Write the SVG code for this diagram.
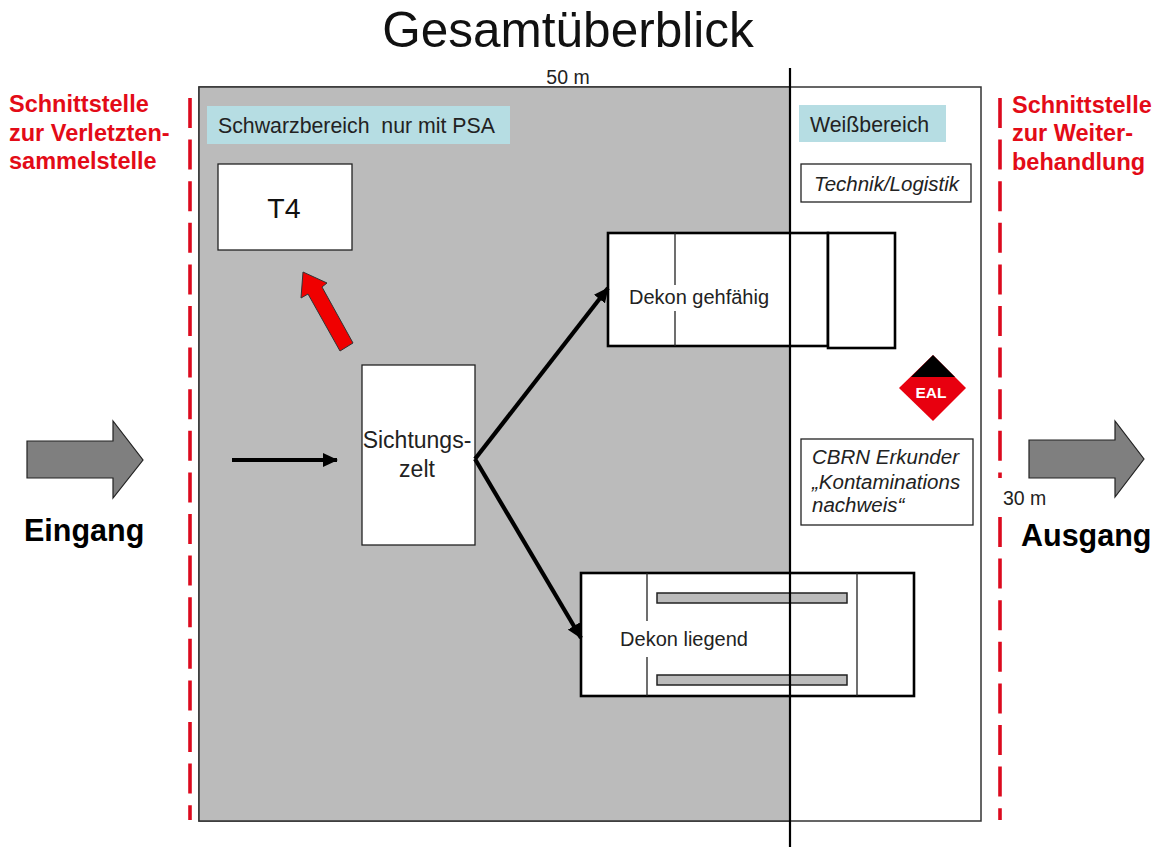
<svg xmlns="http://www.w3.org/2000/svg" width="1167" height="847" viewBox="0 0 1167 847">
<style>
text{font-family:"Liberation Sans",Arial,sans-serif;fill:#222}
.red{fill:#e30b17;font-weight:bold;font-size:23.500px}
.big{fill:#000;font-weight:bold;font-size:30.500px}
.n{font-size:21.300px}
.d{font-size:20px}
.i{font-size:20.500px;font-style:italic}
.box{fill:#fff;stroke:#222;stroke-width:1.3}
.thick{fill:#fff;stroke:#000;stroke-width:2.6}
.thin{stroke:#222;stroke-width:1.3;fill:none}
.bar{fill:#bbb;stroke:#222;stroke-width:1.5}
.dash{stroke:#dc0a1e;stroke-width:3.600;stroke-dasharray:30 11.600;fill:none}
.ga{fill:#7f7f7f;stroke:#222;stroke-width:1.2}
.lab{fill:#b6dde3}
.con{stroke:#000;stroke-width:4.200;fill:none}
.diag{stroke:#000;stroke-width:4.200;fill:none}
</style>
<defs>
<marker id="ah" markerUnits="userSpaceOnUse" markerWidth="15" markerHeight="14" refX="14" refY="7" orient="auto"><path d="M0 0L15 7L0 14Z" fill="#000"/></marker>
</defs>
<rect width="1167" height="847" fill="#fff"/>
<text id="title" x="568" y="47" font-size="49.500" text-anchor="middle" style="fill:#111">Gesamtüberblick</text>
<g id="zones">
<rect x="199" y="87" width="782" height="734" fill="#fff" stroke="#333" stroke-width="1.5"/>
<rect x="199" y="87" width="591" height="734" fill="#bbb" stroke="#333" stroke-width="1.5"/>
<text x="568" y="84" font-size="19.500" text-anchor="middle">50 m</text>
</g>
<g id="schwarzbereich"><rect class="lab" x="207" y="106" width="303" height="38"/><text class="n" x="218" y="133" xml:space="preserve">Schwarzbereich  nur mit PSA</text></g>
<g id="weissbereich"><rect class="lab" x="799" y="105" width="147" height="37"/><text class="n" x="810" y="132">Weißbereich</text></g>
<g id="technik"><rect class="box" x="801" y="164" width="170" height="38"/><text class="i" x="814" y="191">Technik/Logistik</text></g>
<g id="t4"><rect class="box" x="218" y="164" width="134" height="86"/><text x="284" y="218" font-size="28.500" text-anchor="middle" style="fill:#111">T4</text></g>
<g id="dekon-gehfaehig">
<rect class="thick" x="608" y="233" width="220" height="113"/>
<rect class="thick" x="828" y="233" width="67" height="115"/>
<path class="thin" d="M675 233V285M675 311V346"/>
<text class="d" x="699" y="304" text-anchor="middle">Dekon gehfähig</text>
</g>
<g id="dekon-liegend">
<rect class="thick" x="581" y="573" width="333" height="123"/>
<path class="thin" d="M647 573V621M647 657V696M857 573V696"/>
<rect class="bar" x="657" y="593" width="190" height="10"/>
<rect class="bar" x="657" y="675" width="190" height="10"/>
<text class="d" x="684" y="646" text-anchor="middle">Dekon liegend</text>
</g>
<g id="sichtungszelt"><rect class="box" x="362" y="365" width="113" height="180"/>
<text x="417" y="448" font-size="23" text-anchor="middle">Sichtungs-</text><text x="417" y="477" font-size="23" text-anchor="middle">zelt</text></g>
<g id="eal">
<path d="M933 355L966 388L933 421L899 388Z" fill="#e8000f"/>
<path d="M933 355L955 377H911Z" fill="#000"/>
<text x="931" y="398" font-size="15" text-anchor="middle" style="fill:#fff;font-weight:bold" textLength="31" lengthAdjust="spacingAndGlyphs">EAL</text>
</g>
<g id="cbrn"><rect class="box" x="801" y="439" width="172" height="86"/>
<text class="i" x="812" y="464">CBRN Erkunder</text><text class="i" x="812" y="489">„Kontaminations</text><text class="i" x="812" y="512">nachweis“</text></g>
<g id="schnittstelle-links"><text class="red" x="9" y="112">Schnittstelle</text><text class="red" x="9" y="141">zur Verletzten-</text><text class="red" x="9" y="169">sammelstelle</text></g>
<g id="schnittstelle-rechts"><text class="red" x="1012" y="113">Schnittstelle</text><text class="red" x="1012" y="141">zur Weiter-</text><text class="red" x="1012" y="170">behandlung</text></g>
<g id="eingang"><path class="ga" d="M27 441H113V421L143 460L113 498V478H27Z"/><text class="big" x="24" y="541">Eingang</text></g>
<g id="ausgang"><path class="ga" d="M1029 440H1115V421L1144 459L1115 497V478H1029Z"/><text class="big" x="1021" y="546">Ausgang</text></g>
<g id="connectors">
<path d="M790 68V847" stroke="#000" stroke-width="2.200" fill="none"/>
<path class="dash" d="M190 98V820"/>
<path class="dash" d="M1000 98V478"/>
<path class="dash" d="M1000 517V820"/>
<path class="con" d="M232 460H337" marker-end="url(#ah)"/>
<path class="diag" d="M475 459L608 288" marker-end="url(#ah)"/>
<path class="diag" d="M475 459L581 638" marker-end="url(#ah)"/>
<path d="M303 272L327 283L322 287L353 343L340 351L308 294L301 298Z" fill="#f00000" stroke="#333" stroke-width="1"/>
</g>
<text id="m30" x="1003" y="505" font-size="19.500">30 m</text>
</svg>
